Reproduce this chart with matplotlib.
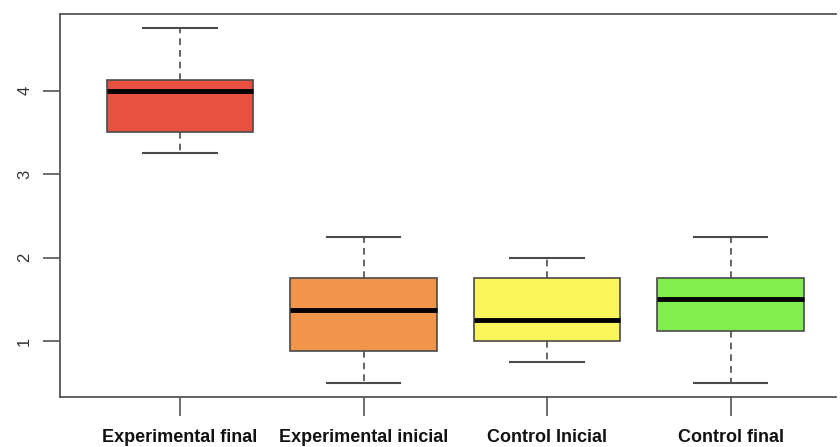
import matplotlib
matplotlib.use("Agg")
import matplotlib.pyplot as plt

# data
groups = ["Experimental final", "Experimental inicial", "Control Inicial", "Control final"]
whisk_lo = [3.25, 0.5, 0.75, 0.5]
q1 = [3.5, 0.875, 1.0, 1.125]
medians = [4.0, 1.375, 1.25, 1.5]
q3 = [4.125, 1.75, 1.75, 1.75]
whisk_hi = [4.75, 2.25, 2.0, 2.25]
colors = ["#E8503F", "#F0954A", "#FAF55A", "#80EE4E"]

stats = []
for i in range(len(groups)):
    stats.append({"whislo": whisk_lo[i], "q1": q1[i], "med": medians[i],
                  "q3": q3[i], "whishi": whisk_hi[i], "label": groups[i]})

fig = plt.figure(figsize=(8.4, 4.47), dpi=100)
ax = fig.add_axes([0.0714, 0.112, 0.924, 0.857])

edge = "#4a4a4a"
bp = ax.bxp(stats, positions=[1, 2, 3, 4], widths=0.8, capwidths=0.4,
            showfliers=False, patch_artist=True,
            boxprops=dict(edgecolor=edge, linewidth=1.2),
            medianprops=dict(color="black", linewidth=3.5, solid_capstyle="butt"),
            whiskerprops=dict(color=edge, linewidth=1.2, linestyle=(0, (4, 3))),
            capprops=dict(color=edge, linewidth=1.5))
for patch, c in zip(bp["boxes"], colors):
    patch.set_facecolor(c)

ax.set_xlim(0.346, 4.575)
ax.set_ylim(0.33, 4.92)
ax.set_yticks([1, 2, 3, 4])
ax.set_yticklabels(["1", "2", "3", "4"], rotation=90, va="center", fontsize=12,
                   family="Liberation Sans", color="#333333")
ax.set_xticklabels(groups, fontsize=13, fontweight="bold", family="Liberation Sans",
                   color="#111111")

# R style frame: left, bottom and top lines (right edge cropped off)
ax.spines["right"].set_visible(False)
for s in ["left", "bottom", "top"]:
    ax.spines[s].set_color("#555555")
    ax.spines[s].set_linewidth(1.3)
ax.tick_params(axis="y", length=12, width=1.2, color="#555555", pad=8)
ax.tick_params(axis="x", length=14, width=1.2, color="#555555", pad=9)

fig.savefig("out.png", dpi=100)
